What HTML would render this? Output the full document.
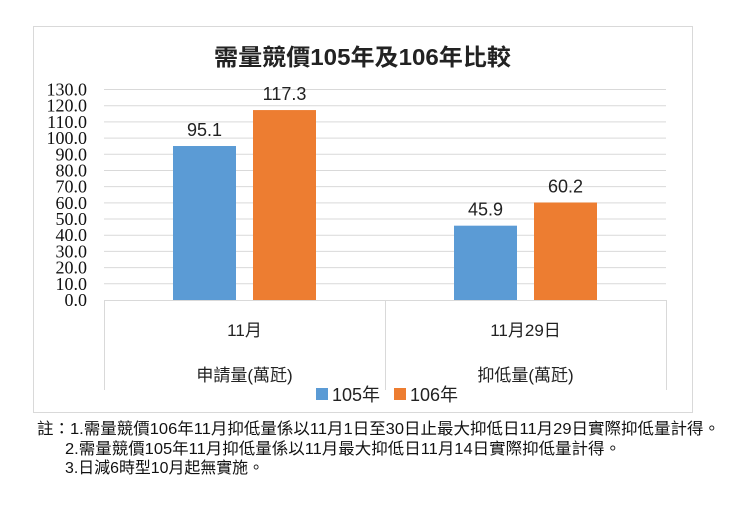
<!DOCTYPE html>
<html><head><meta charset="utf-8"><style>
body{margin:0;background:#fff;width:740px;height:500px;overflow:hidden;font-family:"Liberation Sans","Noto Sans CJK TC",sans-serif}
</style></head><body>
<svg width="740" height="500" xmlns="http://www.w3.org/2000/svg">
<rect x="33.5" y="26.5" width="659" height="386" fill="#fff" stroke="#d9d9d9"/>
<text x="214" y="65" textLength="297" lengthAdjust="spacingAndGlyphs" font-size="23" font-weight="bold" fill="#222" font-family="Liberation Sans,Noto Sans CJK TC,sans-serif">需量競價105年及106年比較</text>
<g id="grid"></g><g id="bars"></g><g id="axis"></g>
<g>
<rect x="316" y="388" width="12" height="12" fill="#5b9bd5"/>
<text x="332" y="401" font-size="18" fill="#222" font-family="Liberation Sans,Noto Sans CJK TC,sans-serif">105年</text>
<rect x="394" y="388" width="12" height="12" fill="#ed7d31"/>
<text x="410" y="401" font-size="18" fill="#222" font-family="Liberation Sans,Noto Sans CJK TC,sans-serif">106年</text>
</g>
<g font-size="16" fill="#111" font-family="Liberation Sans,Noto Sans CJK TC,sans-serif">
<text x="37" y="434" textLength="683" lengthAdjust="spacingAndGlyphs">註：1.需量競價106年11月抑低量係以11月1日至30日止最大抑低日11月29日實際抑低量計得。</text>
<text x="65" y="454" textLength="556" lengthAdjust="spacingAndGlyphs">2.需量競價105年11月抑低量係以11月最大抑低日11月14日實際抑低量計得。</text>
<text x="65" y="473" textLength="199" lengthAdjust="spacingAndGlyphs">3.日減6時型10月起無實施。</text>
</g>
</svg>
<script>
const categories=["11月","11月29日"];
const subLabels=["申請量(萬瓩)","抑低量(萬瓩)"];
const series105=[95.1,45.9];
const series106=[117.3,60.2];
const yTicks=[0,10,20,30,40,50,60,70,80,90,100,110,120,130];
const NS="http://www.w3.org/2000/svg";
const x0=104,x1=666,yBase=300,yTop=89.5,yMax=130;
const y=v=>yBase-(v/yMax)*(yBase-yTop);
const groupW=(x1-x0)/categories.length;
function mk(t,a,p){const e=document.createElementNS(NS,t);for(const k in a)e.setAttribute(k,a[k]);p.appendChild(e);return e;}
const grid=document.getElementById('grid'),bars=document.getElementById('bars'),axis=document.getElementById('axis');
yTicks.forEach(v=>{
  if(v>0){const l=mk('line',{x1:x0,x2:x1,y1:y(v),y2:y(v),stroke:'#d9d9d9'},grid);
  
  }
  const t=mk('text',{x:87,y:y(v)+6,'text-anchor':'end','font-size':18,fill:'#111','font-family':'Liberation Serif,serif'},axis);
  t.textContent=v.toFixed(1);
  
  
});
const bl=mk('line',{x1:x0,x2:x1,y1:yBase+.5,y2:yBase+.5,stroke:'#d9d9d9'},axis);


for(let i=0;i<=categories.length;i++){
  const xx=x0+i*groupW+.5;
  const s=mk('line',{x1:xx,x2:xx,y1:yBase,y2:yBase+90,stroke:'#d9d9d9'},axis);
  
  
}
const bw=63,gap=17;
categories.forEach((c,i)=>{
  const cx=x0+(i+0.5)*groupW;
  [[series105,'#5b9bd5','105'],[series106,'#ed7d31','106']].forEach(([s,col,nm],j)=>{
    const bx=j===0?cx-gap/2-bw:cx+gap/2;
    const r=mk('rect',{x:bx,y:y(s[i]),width:bw,height:yBase-y(s[i]),fill:col},bars);
    
    
    const t=mk('text',{x:bx+bw/2,y:y(s[i])-10,'text-anchor':'middle','font-size':18,fill:'#222'},bars);
    t.textContent=s[i].toFixed(1);
    
    
  });
  const t1=mk('text',{x:cx,y:336,'text-anchor':'middle','font-size':17,fill:'#222'},axis);
  t1.textContent=c;
  
  
  const t2=mk('text',{x:cx,y:381,'text-anchor':'middle','font-size':17,fill:'#222'},axis);
  t2.textContent=subLabels[i];
  
  
});
</script>
</body></html>
